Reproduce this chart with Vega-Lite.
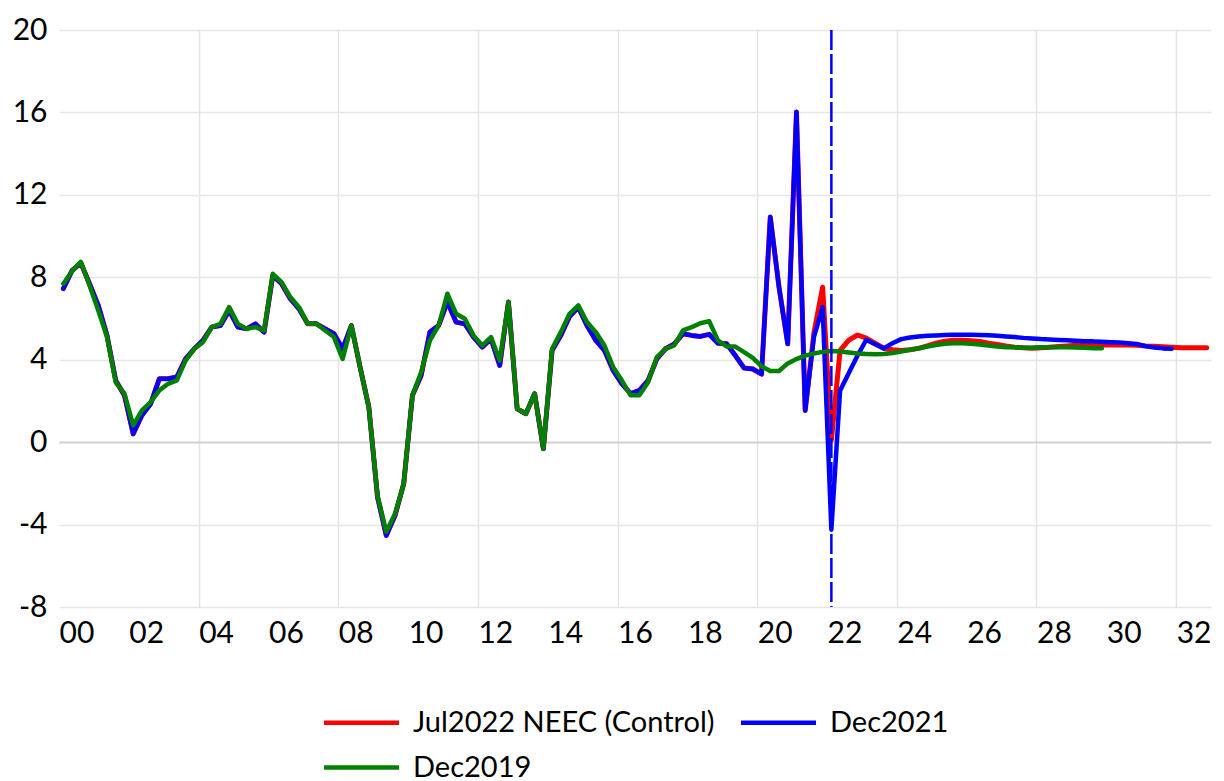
{
  "$schema": "https://vega.github.io/schema/vega-lite/v6.json",
  "autosize": {"type": "none"},
  "width": 1152,
  "height": 577,
  "padding": {"left": 59, "top": 30, "right": 13, "bottom": 174},
  "background": "white",
  "config": {
    "font": "Lato",
    "view": {"stroke": null},
    "axis": {"domain": false, "ticks": false, "tickSize": 0, "title": null, "labelFont": "Lato", "labelFontSize": 30, "labelColor": "#000000"}
  },
  "data": {"values": [
    {"t":2000.125,"a":7.45,"b":7.45,"c":7.69},
    {"t":2000.375,"a":8.33,"b":8.33,"c":8.3},
    {"t":2000.625,"a":8.69,"b":8.69,"c":8.75},
    {"t":2000.875,"a":7.69,"b":7.69,"c":7.6},
    {"t":2001.125,"a":6.64,"b":6.64,"c":6.39},
    {"t":2001.375,"a":5.18,"b":5.18,"c":5.1},
    {"t":2001.625,"a":2.99,"b":2.99,"c":2.9},
    {"t":2001.875,"a":2.27,"b":2.27,"c":2.35},
    {"t":2002.125,"a":0.4,"b":0.4,"c":0.81},
    {"t":2002.375,"a":1.3,"b":1.3,"c":1.54},
    {"t":2002.625,"a":1.86,"b":1.86,"c":1.94},
    {"t":2002.875,"a":3.08,"b":3.08,"c":2.51},
    {"t":2003.125,"a":3.08,"b":3.08,"c":2.83},
    {"t":2003.375,"a":3.16,"b":3.16,"c":3.0},
    {"t":2003.625,"a":4.04,"b":4.04,"c":3.96},
    {"t":2003.875,"a":4.53,"b":4.53,"c":4.53},
    {"t":2004.125,"a":4.94,"b":4.94,"c":4.85},
    {"t":2004.375,"a":5.58,"b":5.58,"c":5.58},
    {"t":2004.625,"a":5.66,"b":5.66,"c":5.74},
    {"t":2004.875,"a":6.39,"b":6.39,"c":6.55},
    {"t":2005.125,"a":5.58,"b":5.58,"c":5.74},
    {"t":2005.375,"a":5.5,"b":5.5,"c":5.5},
    {"t":2005.625,"a":5.74,"b":5.74,"c":5.58},
    {"t":2005.875,"a":5.34,"b":5.34,"c":5.42},
    {"t":2006.125,"a":8.09,"b":8.09,"c":8.17},
    {"t":2006.375,"a":7.69,"b":7.69,"c":7.77},
    {"t":2006.625,"a":6.96,"b":6.96,"c":7.04},
    {"t":2006.875,"a":6.47,"b":6.47,"c":6.55},
    {"t":2007.125,"a":5.74,"b":5.74,"c":5.74},
    {"t":2007.375,"a":5.74,"b":5.74,"c":5.74},
    {"t":2007.625,"a":5.5,"b":5.5,"c":5.42},
    {"t":2007.875,"a":5.26,"b":5.26,"c":5.1},
    {"t":2008.125,"a":4.53,"b":4.53,"c":4.04},
    {"t":2008.375,"a":5.66,"b":5.66,"c":5.66},
    {"t":2008.625,"a":3.64,"b":3.64,"c":3.64},
    {"t":2008.875,"a":1.7,"b":1.7,"c":1.7},
    {"t":2009.125,"a":-2.67,"b":-2.67,"c":-2.59},
    {"t":2009.375,"a":-4.53,"b":-4.53,"c":-4.35},
    {"t":2009.625,"a":-3.56,"b":-3.56,"c":-3.48},
    {"t":2009.875,"a":-2.02,"b":-2.02,"c":-2.02},
    {"t":2010.125,"a":2.27,"b":2.27,"c":2.27},
    {"t":2010.375,"a":3.24,"b":3.24,"c":3.4},
    {"t":2010.625,"a":5.34,"b":5.34,"c":4.94},
    {"t":2010.875,"a":5.66,"b":5.66,"c":5.66},
    {"t":2011.125,"a":6.8,"b":6.8,"c":7.2},
    {"t":2011.375,"a":5.83,"b":5.83,"c":6.23},
    {"t":2011.625,"a":5.74,"b":5.74,"c":5.99},
    {"t":2011.875,"a":5.1,"b":5.1,"c":5.18},
    {"t":2012.125,"a":4.61,"b":4.61,"c":4.69},
    {"t":2012.375,"a":5.02,"b":5.02,"c":5.1},
    {"t":2012.625,"a":3.72,"b":3.72,"c":3.96},
    {"t":2012.875,"a":6.8,"b":6.8,"c":6.8},
    {"t":2013.125,"a":1.62,"b":1.62,"c":1.62},
    {"t":2013.375,"a":1.38,"b":1.38,"c":1.38},
    {"t":2013.625,"a":2.35,"b":2.35,"c":2.35},
    {"t":2013.875,"a":-0.32,"b":-0.32,"c":-0.32},
    {"t":2014.125,"a":4.45,"b":4.45,"c":4.53},
    {"t":2014.375,"a":5.18,"b":5.18,"c":5.34},
    {"t":2014.625,"a":6.1,"b":6.1,"c":6.23},
    {"t":2014.875,"a":6.55,"b":6.55,"c":6.64},
    {"t":2015.125,"a":5.66,"b":5.66,"c":5.83},
    {"t":2015.375,"a":4.94,"b":4.94,"c":5.34},
    {"t":2015.625,"a":4.45,"b":4.45,"c":4.69},
    {"t":2015.875,"a":3.48,"b":3.48,"c":3.64},
    {"t":2016.125,"a":2.83,"b":2.83,"c":2.99},
    {"t":2016.375,"a":2.35,"b":2.35,"c":2.27},
    {"t":2016.625,"a":2.51,"b":2.51,"c":2.27},
    {"t":2016.875,"a":2.99,"b":2.99,"c":2.91},
    {"t":2017.125,"a":4.04,"b":4.04,"c":4.12},
    {"t":2017.375,"a":4.53,"b":4.53,"c":4.53},
    {"t":2017.625,"a":4.77,"b":4.77,"c":4.69},
    {"t":2017.875,"a":5.26,"b":5.26,"c":5.42},
    {"t":2018.125,"a":5.18,"b":5.18,"c":5.58},
    {"t":2018.375,"a":5.13,"b":5.13,"c":5.77},
    {"t":2018.625,"a":5.23,"b":5.23,"c":5.87},
    {"t":2018.875,"a":4.8,"b":4.8,"c":4.94},
    {"t":2019.125,"a":4.77,"b":4.77,"c":4.64},
    {"t":2019.375,"a":4.2,"b":4.2,"c":4.64},
    {"t":2019.625,"a":3.6,"b":3.6,"c":4.37},
    {"t":2019.875,"a":3.55,"b":3.55,"c":4.09},
    {"t":2020.125,"a":3.3,"b":3.3,"c":3.68},
    {"t":2020.375,"a":10.92,"b":10.92,"c":3.45},
    {"t":2020.625,"a":7.52,"b":7.52,"c":3.45},
    {"t":2020.875,"a":4.77,"b":4.77,"c":3.82},
    {"t":2021.125,"a":16.02,"b":16.02,"c":4.03},
    {"t":2021.375,"a":1.54,"b":1.54,"c":4.2},
    {"t":2021.625,"a":5.3,"b":5.1,"c":4.3},
    {"t":2021.875,"a":7.52,"b":6.55,"c":4.38},
    {"t":2022.125,"a":0.1,"b":-4.25,"c":4.42},
    {"t":2022.375,"a":4.45,"b":2.5,"c":4.4},
    {"t":2022.625,"a":4.95,"b":3.35,"c":4.35},
    {"t":2022.875,"a":5.2,"b":4.2,"c":4.3},
    {"t":2023.125,"a":5.05,"b":4.97,"c":4.28},
    {"t":2023.375,"a":4.8,"b":4.75,"c":4.26},
    {"t":2023.625,"a":4.56,"b":4.55,"c":4.28},
    {"t":2023.875,"a":4.48,"b":4.8,"c":4.33},
    {"t":2024.125,"a":4.45,"b":5.0,"c":4.4},
    {"t":2024.375,"a":4.48,"b":5.08,"c":4.48},
    {"t":2024.625,"a":4.55,"b":5.13,"c":4.56},
    {"t":2024.875,"a":4.67,"b":5.16,"c":4.64},
    {"t":2025.125,"a":4.8,"b":5.18,"c":4.71},
    {"t":2025.375,"a":4.9,"b":5.2,"c":4.77},
    {"t":2025.625,"a":4.94,"b":5.21,"c":4.8},
    {"t":2025.875,"a":4.94,"b":5.21,"c":4.8},
    {"t":2026.125,"a":4.92,"b":5.21,"c":4.77},
    {"t":2026.375,"a":4.89,"b":5.2,"c":4.74},
    {"t":2026.625,"a":4.8,"b":5.19,"c":4.69},
    {"t":2026.875,"a":4.74,"b":5.16,"c":4.64},
    {"t":2027.125,"a":4.67,"b":5.13,"c":4.61},
    {"t":2027.375,"a":4.61,"b":5.1,"c":4.6},
    {"t":2027.625,"a":4.58,"b":5.06,"c":4.58},
    {"t":2027.875,"a":4.56,"b":5.03,"c":4.58},
    {"t":2028.125,"a":4.58,"b":5.0,"c":4.6},
    {"t":2028.375,"a":4.61,"b":4.98,"c":4.6},
    {"t":2028.625,"a":4.64,"b":4.96,"c":4.6},
    {"t":2028.875,"a":4.67,"b":4.94,"c":4.6},
    {"t":2029.125,"a":4.7,"b":4.92,"c":4.59},
    {"t":2029.375,"a":4.72,"b":4.9,"c":4.58},
    {"t":2029.625,"a":4.72,"b":4.89,"c":4.56},
    {"t":2029.875,"a":4.72,"b":4.87,"c":4.56},
    {"t":2030.125,"a":4.72,"b":4.85},
    {"t":2030.375,"a":4.72,"b":4.83},
    {"t":2030.625,"a":4.71,"b":4.8},
    {"t":2030.875,"a":4.7,"b":4.76},
    {"t":2031.125,"a":4.67,"b":4.66},
    {"t":2031.375,"a":4.65,"b":4.59},
    {"t":2031.625,"a":4.63,"b":4.55},
    {"t":2031.875,"a":4.61,"b":4.53},
    {"t":2032.125,"a":4.58},
    {"t":2032.375,"a":4.58},
    {"t":2032.625,"a":4.58},
    {"t":2032.875,"a":4.58}
  ]},
  "encoding": {
    "x": {
      "field": "t", "type": "quantitative",
      "scale": {"domain": [2000, 2033], "nice": false, "zero": false},
      "axis": {
        "values": [2000,2002,2004,2006,2008,2010,2012,2014,2016,2018,2020,2022,2024,2026,2028,2030,2032],
        "labelExpr": "format(datum.value % 100, '02d')",
        "labelOffset": 17.45,
        "labelPadding": 11,
        "labelFlush": false,
        "labelOverlap": false,
        "grid": true,
        "gridColor": "#e4e4e4",
        "gridWidth": 1.5,
        "gridOpacity": {"condition": {"test": "datum.value % 4 === 0 && datum.value > 2000", "value": 1}, "value": 0}
      }
    }
  },
  "layer": [
    {
      "mark": {"type": "line", "strokeWidth": 5, "strokeJoin": "round", "strokeCap": "round"},
      "encoding": {
        "y": {"field": "a", "type": "quantitative",
          "scale": {"domain": [-8, 20], "nice": false, "zero": false},
          "axis": {"values": [-8,-4,0,4,8,12,16,20], "labelPadding": 12, "grid": true,
            "labelExpr": "datum.value < 0 ? '-' + abs(datum.value) : '' + datum.value",
            "gridColor": {"condition": {"test": "datum.value === 0", "value": "#d0d0d0"}, "value": "#e6e6e6"},
            "gridWidth": {"condition": {"test": "datum.value === 0", "value": 2}, "value": 1.3}}},
        "color": {"datum": "Jul2022 NEEC (Control)", "type": "nominal",
          "scale": {"domain": ["Jul2022 NEEC (Control)", "Dec2021", "Dec2019"], "range": ["#ff0000", "#0000ff", "#008000"]},
          "legend": {"title": null, "orient": "none", "legendX": 285, "legendY": 675, "columns": 2, "direction": "horizontal",
            "symbolType": "M-2.5,0H2.5", "symbolSize": 900, "symbolStrokeWidth": 4.5, "labelFontSize": 29, "labelFont": "Lato", "labelColor": "#000000",
            "labelOffset": 34, "columnPadding": 17, "rowPadding": 12, "padding": 0, "labelLimit": 500}}
      }
    },
    {
      "mark": {"type": "line", "strokeWidth": 4.5, "strokeJoin": "round", "strokeCap": "round"},
      "encoding": {
        "y": {"field": "b", "type": "quantitative"},
        "color": {"datum": "Dec2021", "type": "nominal"}
      }
    },
    {
      "mark": {"type": "line", "strokeWidth": 4.5, "strokeJoin": "round", "strokeCap": "round"},
      "encoding": {
        "y": {"field": "c", "type": "quantitative"},
        "color": {"datum": "Dec2019", "type": "nominal"}
      }
    },
    {
      "data": {"values": [{"t": 2022.125}]},
      "mark": {"type": "rule", "color": "#0000ff", "strokeWidth": 2.5, "strokeDash": [20, 4]},
      "encoding": {"x": {"field": "t", "type": "quantitative"}}
    }
  ]
}
